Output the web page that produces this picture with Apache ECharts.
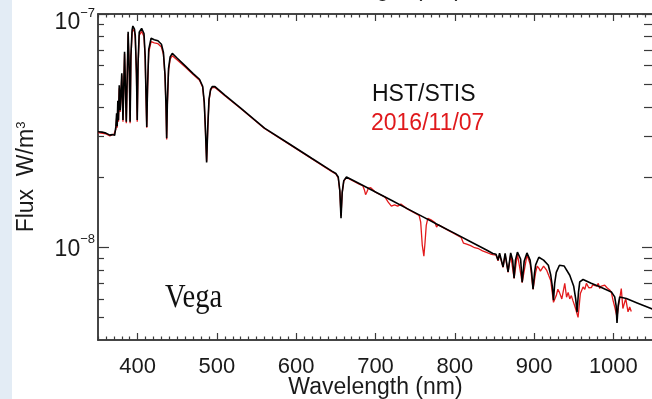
<!DOCTYPE html>
<html>
<head>
<meta charset="utf-8">
<script src="https://cdn.jsdelivr.net/npm/echarts@6/dist/echarts.min.js"></script>
<style>
  html, body { margin: 0; padding: 0; background: #fff; }
  #vega_flux { width: 652px; height: 399px; }
</style>
</head>
<body>
<div id="vega_flux"></div>
<script>
// flux in units of 1e-8 W/m^3
var stisWl = [350, 355, 360, 365, 368, 370, 371, 372.5, 373.5, 374.2, 375, 375.8, 376.8, 378, 380, 381.5, 383.5, 385.7, 388, 389.5, 390.5, 391.5, 393, 394, 396, 397, 398.5, 399.5, 400.5, 402, 405, 408, 409.5, 410.5, 411.5, 412.5, 414, 417, 421, 425.6, 430, 432.5, 434.5, 435.8, 436.6, 437.5, 439, 441, 443.7, 450, 460, 470, 478, 482, 484, 485.5, 487, 488.5, 490, 492, 494, 497.5, 510, 530, 560, 590, 620, 645, 650, 653, 655, 656.5, 658, 660, 663.4, 680, 700, 720, 740, 760, 780, 800, 820, 840, 848, 852, 854.6, 856.5, 860.9, 863.5, 867.2, 870.5, 873, 874.8, 876.5, 879, 883, 885, 887.5, 891, 895, 897, 898.7, 900.5, 902, 906, 912, 918, 921, 923, 924.5, 926, 928, 932, 938, 945, 950, 952.5, 954.2, 956, 957.6, 961.8, 972, 982.8, 997.5, 1001.7, 1003.5, 1004.6, 1006, 1008, 1016.4, 1030, 1050];
var stisFlux = [3.125, 3.116, 3.085, 3.025, 3.04, 3.10, 3.02, 3.28, 3.75, 3.3, 4.25, 3.5, 4.95, 3.87, 5.57, 3.51, 6.89, 3.45, 8.40, 5.6, 3.45, 6.6, 8.55, 8.88, 8.62, 8.1, 5.6, 3.51, 6.1, 8.35, 8.68, 8.25, 6.6, 4.6, 3.28, 4.9, 7.05, 7.87, 7.76, 7.68, 7.42, 6.85, 5.5, 4.0, 2.93, 4.2, 5.85, 6.55, 6.78, 6.46, 5.99, 5.55, 5.25, 4.9, 4.2, 3.2, 2.31, 3.3, 4.3, 4.75, 4.88, 4.88, 4.49, 3.95, 3.24, 2.79, 2.40, 2.12, 2.07, 2.00, 1.75, 1.33, 1.72, 1.93, 2.00, 1.87, 1.725, 1.589, 1.464, 1.349, 1.243, 1.146, 1.056, 0.973, 0.940, 0.933, 0.880, 0.942, 0.823, 0.942, 0.783, 0.945, 0.88, 0.736, 0.88, 0.952, 0.89, 0.708, 0.87, 0.945, 0.88, 0.78, 0.660, 0.77, 0.84, 0.906, 0.88, 0.837, 0.76, 0.68, 0.592, 0.70, 0.78, 0.837, 0.83, 0.758, 0.68, 0.60, 0.526, 0.64, 0.71, 0.727, 0.70, 0.676, 0.643, 0.612, 0.56, 0.473, 0.56, 0.612, 0.602, 0.577, 0.542];

var obsWl = [350, 360, 365, 370, 371, 372.5, 373.5, 374.2, 375, 375.8, 376.8, 378, 380, 381.5, 383.5, 385.7, 388, 389.5, 390.5, 391.5, 393, 394, 396, 397, 398.5, 399.5, 400.5, 402, 405, 408, 409.5, 410.5, 411.5, 412.5, 414, 417, 421, 425.6, 430, 432.5, 434.5, 435.8, 436.6, 437.5, 439, 441, 443.7, 450, 460, 470, 478, 482, 484, 485.5, 487, 488.5, 490, 492, 494, 497.5, 510, 530, 560, 590, 620, 645, 650, 653, 655, 656.5, 658, 660, 663.4, 680, 684, 686, 687.5, 689, 691, 694, 700, 712, 716, 720, 724, 728, 732, 740, 755, 757, 759, 761, 762.5, 764, 766, 770, 775, 777, 779, 790, 800, 808, 811, 815, 820, 825, 830, 835, 840, 845, 848, 852, 854.6, 856.5, 860.9, 863.5, 867.2, 870.5, 874.8, 879, 885, 891, 895, 898.7, 902, 904, 906, 908, 910, 912, 914, 916, 918, 921, 924.5, 928, 930, 932, 935, 938.7, 941, 943, 945, 947, 949, 952, 955.5, 958.4, 961.8, 964, 966, 969, 972.3, 974, 976.5, 979, 981, 982.8, 984, 986, 989.1, 992, 995.4, 997.5, 999.6, 1002, 1004.6, 1007, 1010, 1012, 1015.6, 1018.5, 1020.6, 1022.6];
var obsFlux = [3.10, 3.06, 3.00, 3.05, 3.0, 3.2, 3.6, 3.25, 4.1, 3.45, 4.8, 3.8, 5.45, 3.45, 6.75, 3.4, 8.2, 5.5, 3.4, 6.4, 8.3, 8.6, 8.4, 7.85, 5.4, 3.45, 5.9, 8.1, 8.42, 8.0, 6.4, 4.5, 3.25, 4.75, 6.85, 7.62, 7.52, 7.46, 7.22, 6.7, 5.4, 3.95, 2.9, 4.1, 5.7, 6.4, 6.62, 6.35, 5.93, 5.5, 5.2, 4.85, 4.15, 3.15, 2.33, 3.25, 4.25, 4.7, 4.83, 4.84, 4.46, 3.93, 3.23, 2.78, 2.39, 2.11, 2.06, 1.98, 1.73, 1.36, 1.71, 1.92, 1.99, 1.86, 1.835, 1.76, 1.68, 1.72, 1.79, 1.80, 1.72, 1.64, 1.56, 1.50, 1.52, 1.50, 1.53, 1.46, 1.37, 1.28, 1.02, 0.915, 1.05, 1.24, 1.33, 1.31, 1.275, 1.22, 1.25, 1.19, 1.14, 1.10, 1.04, 1.03, 1.015, 0.995, 0.985, 0.965, 0.95, 0.935, 0.93, 0.925, 0.875, 0.93, 0.82, 0.93, 0.78, 0.93, 0.735, 0.935, 0.705, 0.925, 0.85, 0.66, 0.78, 0.83, 0.813, 0.79, 0.80, 0.83, 0.815, 0.795, 0.78, 0.72, 0.58, 0.62, 0.66, 0.64, 0.60, 0.70, 0.61, 0.64, 0.60, 0.62, 0.59, 0.55, 0.50, 0.633, 0.675, 0.66, 0.70, 0.67, 0.671, 0.69, 0.70, 0.68, 0.70, 0.665, 0.68, 0.69, 0.687, 0.67, 0.656, 0.64, 0.592, 0.55, 0.502, 0.573, 0.665, 0.546, 0.602, 0.528, 0.554, 0.53];

var wlTicks = [400, 500, 600, 700, 800, 900, 1000];
var wlMinorTicks = [350, 360, 370, 380, 390, 410, 420, 430, 440, 450, 460, 470, 480, 490, 510, 520, 530, 540, 550, 560, 570, 580, 590, 610, 620, 630, 640, 650, 660, 670, 680, 690, 710, 720, 730, 740, 750, 760, 770, 780, 790, 810, 820, 830, 840, 850, 860, 870, 880, 890, 910, 920, 930, 940, 950, 960, 970, 980, 990, 1010, 1020, 1030, 1040, 1050];
var fluxTicks = [1, 10];
var fluxTickLabels = ['{b|10}{s|\u22128}', '{e|}\n{b|10}{s|\u22127}'];
var fluxMinorTicks = [0.5, 0.6, 0.7, 0.8, 0.9, 2, 3, 4, 5, 6, 7, 8, 9];

var chart = echarts.init(document.getElementById('vega_flux'));

var frameLine = { show: true, onZero: false, lineStyle: { color: '#3a3a3a', width: 1.5 } };
var tickLine = { color: '#3a3a3a', width: 1.2 };
var labelFont = 'Liberation Sans';

function xAx(pos, ticks, len, labels) {
    return {
        type: 'value', position: pos, min: 350, max: 1050,
        axisLine: frameLine,
        axisTick: { show: true, inside: true, length: len, customValues: ticks, lineStyle: tickLine },
        axisLabel: labels ? {
            show: true, customValues: wlTicks, fontSize: 22, color: '#1a1a1a',
            fontFamily: labelFont, margin: 16,
            formatter: function (v) { return String(v); }
        } : { show: false },
        splitLine: { show: false },
        name: labels ? 'Wavelength (nm)' : '',
        nameLocation: 'middle', nameGap: 36, nameMoveOverlap: false,
        nameTextStyle: { fontSize: 23, color: '#1a1a1a', fontFamily: labelFont }
    };
}

function yAx(pos, ticks, len, labels) {
    return {
        type: 'log', logBase: 10, position: pos, min: 0.4, max: 10,
        axisLine: frameLine,
        axisTick: { show: true, inside: true, length: len, customValues: ticks, lineStyle: tickLine },
        axisLabel: labels ? {
            show: true, customValues: fluxTicks, margin: 3,
            formatter: function (v) {
                var i = fluxTicks.indexOf(Math.round(v));
                return i < 0 ? '' : fluxTickLabels[i];
            },
            rich: {
                b: { fontSize: 23, color: '#1a1a1a', fontFamily: labelFont, padding: [5, 0, 0, 0], verticalAlign: 'bottom' },
                s: { fontSize: 13, color: '#1a1a1a', fontFamily: labelFont, verticalAlign: 'top', lineHeight: 13 },
                e: { fontSize: 13, lineHeight: 13 }
            }
        } : { show: false },
        splitLine: { show: false },
        name: labels ? 'Flux  W/m{sup|3}' : '',
        nameLocation: 'middle', nameGap: 60, nameMoveOverlap: false,
        nameTextStyle: {
            fontSize: 23, color: '#1a1a1a', fontFamily: labelFont,
            rich: { sup: { fontSize: 13, color: '#1a1a1a', fontFamily: labelFont, verticalAlign: 'top', lineHeight: 13 } }
        }
    };
}

var option = {
    animation: false,
    backgroundColor: '#ffffff',
    grid: { left: 98, top: 14, width: 555, height: 326, containLabel: false, outerBoundsMode: 'none' },
    xAxis: [
        xAx('bottom', wlTicks, 7, true),
        xAx('bottom', wlMinorTicks, 3.5, false),
        xAx('top', wlTicks, 7, false),
        xAx('top', wlMinorTicks, 3.5, false)
    ],
    yAxis: [
        yAx('left', fluxTicks, 11, true),
        yAx('left', fluxMinorTicks, 6, false),
        yAx('right', fluxTicks, 11, false),
        yAx('right', fluxMinorTicks, 9, false)
    ],
    graphic: [
        { type: 'rect', left: 0, top: 0, shape: { width: 12, height: 399 }, style: { fill: '#e3ecf5' }, z: -10 },
        { type: 'text', x: 375, y: -10, style: { text: 'Wavelength (nm)', fontSize: 23, fontFamily: labelFont, fill: '#1a1a1a', align: 'center', verticalAlign: 'middle' } },
        { type: 'text', x: 372, y: 94.5, style: { text: 'HST/STIS', fontSize: 23, fontFamily: labelFont, fill: '#111', verticalAlign: 'middle' } },
        { type: 'text', x: 371, y: 123.5, style: { text: '2016/11/07', fontSize: 23, fontFamily: labelFont, fill: '#e0191c', verticalAlign: 'middle' } },
        { type: 'text', x: 165, y: 298.5, scaleX: 0.84, style: { text: 'Vega', fontSize: 34, fontFamily: 'Liberation Serif', fill: '#111', verticalAlign: 'middle' } }
    ],
    series: [
        {
            name: '2016/11/07', type: 'line', xAxisIndex: 0, yAxisIndex: 0,
            showSymbol: false, clip: true,
            lineStyle: { color: '#e31a1c', width: 1.3 },
            data: obsWl.map(function (w, i) { return [w, obsFlux[i]]; })
        },
        {
            name: 'HST/STIS', type: 'line', xAxisIndex: 0, yAxisIndex: 0,
            showSymbol: false, clip: true,
            lineStyle: { color: '#000000', width: 1.6 },
            data: stisWl.map(function (w, i) { return [w, stisFlux[i]]; })
        }
    ]
};
chart.setOption(option);
</script>
</body>
</html>
